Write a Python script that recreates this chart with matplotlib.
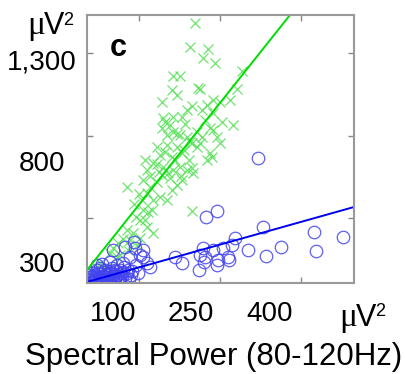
import matplotlib.pyplot as plt
import matplotlib.transforms as mtransforms

# green crosses (x in uV^2, y in uV^2)
green_x = [258, 248, 273, 283, 296, 348, 215, 229, 263, 267, 213, 223, 338, 325, 194,
           292, 306, 252, 271, 242, 196, 215, 233, 210, 331, 277, 286, 292, 194, 204,
           215, 229, 242, 261, 267, 261, 252, 300, 306, 292, 204, 223, 233, 213, 185,
           190, 286, 290, 281, 161, 177, 165, 196, 206, 215, 229, 242, 252, 254, 233,
           223, 213, 158, 171, 185, 194, 127, 165, 177, 190, 204, 252, 156, 158, 175,
           152, 165, 177, 161, 127, 138, 152, 133, 100, 94, 108, 75, 88, 113, 129,
           146, 62, 69,
           200, 238, 222, 248, 236, 270, 219, 246, 200, 185, 230, 210, 172, 188, 150,
           140, 168, 145, 120, 110, 280, 310]
green_y = [1498, 1379, 1325, 1370, 1300, 1261, 1236, 1236, 1176, 1171, 1167, 1142, 1171, 1117, 1107,
           1117, 1107, 1087, 1068, 1068, 1028, 1033, 1033, 993, 993, 1018, 978, 1053, 978, 944,
           959, 944, 934, 959, 904, 884, 904, 934, 904, 969, 894, 884, 855, 835, 884,
           845, 855, 835, 820, 820, 805, 771, 785, 756, 771, 785, 771, 780, 756, 721,
           696, 672, 721, 686, 711, 746, 686, 657, 622, 637, 622, 568, 622, 573, 573,
           523, 488, 459, 523, 474, 459, 434, 424, 384, 360, 340, 310, 290, 350, 374,
           399, 251, 285,
           1010, 1000, 950, 910, 870, 935, 820, 820, 860, 800, 740, 730, 740, 760, 650,
           600, 560, 540, 430, 410, 1090, 1010]

# blue circles
blue_x = [379, 300, 279, 388, 486, 542, 335, 329, 490, 423, 360, 394, 273, 292, 311,
          321, 323, 267, 277, 275, 302, 300, 265, 219, 233, 123, 140, 142, 158, 158,
          165, 171, 133, 119, 113, 129, 100, 152, 56, 60, 65, 71, 75, 81, 85,
          88, 94, 98, 104, 108, 110, 75, 65, 90, 100, 113, 119, 94, 79, 69,
          62, 52, 104, 85, 123, 98, 87, 77, 67, 58, 92, 102, 113, 134, 144,
          55, 58, 63, 66, 70, 72, 76, 78, 80, 83, 86, 89, 92, 95, 97,
          101, 103, 106, 108, 112, 115, 118, 121, 126, 130, 137, 148, 60, 54, 70]
blue_y = [830, 568, 538, 488, 464, 439, 434, 399, 370, 389, 375, 345, 384, 375, 384,
          340, 325, 350, 340, 315, 325, 300, 276, 340, 310, 389, 414, 384, 375, 340,
          310, 290, 340, 310, 276, 276, 375, 350, 226, 246, 236, 261, 226, 246, 276,
          231, 261, 285, 246, 300, 221, 285, 215, 215, 226, 241, 266, 315, 305, 276,
          215, 215, 276, 215, 236, 246, 251, 231, 221, 218, 231, 215, 218, 251, 300,
          230, 240, 225, 250, 235, 220, 255, 240, 220, 265, 240, 255, 225, 270, 238,
          258, 230, 270, 250, 228, 262, 245, 290, 260, 230, 270, 260, 260, 250, 300]

# regression lines (end points)
green_line_x = [50, 440]
green_line_y = [275, 1537]
blue_line_x = [50, 563]
blue_line_y = [216, 587]

x_tick_pos = [150, 306, 461]
y_tick_pos = [533, 939, 1350]
x_labels = [100, 250, 400]
y_labels = [300, 800, 1300]

W, H = 406, 374
fig = plt.figure(figsize=(W / 100, H / 100), dpi=100)
ax = fig.add_axes([87 / W, 1 - 283 / H, (354 - 87) / W, (283 - 15) / H])

ax.plot(green_x, green_y, 'x', color='#55e055', ms=7.5, mew=0.9, alpha=0.85)
ax.plot(blue_x, blue_y, 'o', mfc='none', mec='#4444ee', ms=9, mew=0.9, alpha=0.85)
ax.plot(green_line_x, green_line_y, color='#00dd00', lw=1.4)
ax.plot(blue_line_x, blue_line_y, color='#0000ee', lw=1.4)

ax.set_xlim(50, 563)
ax.set_ylim(211, 1537)
ax.set_xticks(x_tick_pos)
ax.set_yticks(y_tick_pos)
ax.set_xticklabels([])
ax.set_yticklabels([])
ax.tick_params(direction='in', length=4, width=1, color='#888888',
               top=True, right=True)
for s in ax.spines.values():
    s.set_color('#999999')
    s.set_linewidth(1.5)

font = 'Liberation Sans'
tr_y = mtransforms.blended_transform_factory(fig.transFigure, ax.transData)
for v in y_labels:
    ax.text(42 / W, v, f'{v:,}', transform=tr_y, ha='center', va='center',
            fontsize=20, family=font)
tr_x = mtransforms.blended_transform_factory(ax.transData, fig.transFigure)
for v in x_labels:
    ax.text(v, 1 - 314 / H, str(v), transform=tr_x, ha='center', va='center',
            fontsize=20, family=font)

ax.text(118 / W, 1 - 48 / H, 'c', transform=fig.transFigure, ha='center',
        va='center', fontsize=22, fontweight='bold', family=font)


def unit(x0, base, sup_base):
    fig.text(x0 / W, 1 - base / H, 'μ', fontsize=24, family='Liberation Serif',
             ha='left', va='baseline')
    fig.text((x0 + 17) / W, 1 - base / H, 'V', fontsize=22, family=font,
             ha='left', va='baseline')
    fig.text((x0 + 36) / W, 1 - sup_base / H, '2', fontsize=13, family=font,
             ha='left', va='baseline')


unit(27, 34, 25)
unit(339, 326, 316)

fig.text(214 / W, 1 - 357 / H, 'Spectral Power (80-120Hz)', ha='center',
         va='center', fontsize=22.5, family=font)

fig.savefig('out.png', dpi=100)
